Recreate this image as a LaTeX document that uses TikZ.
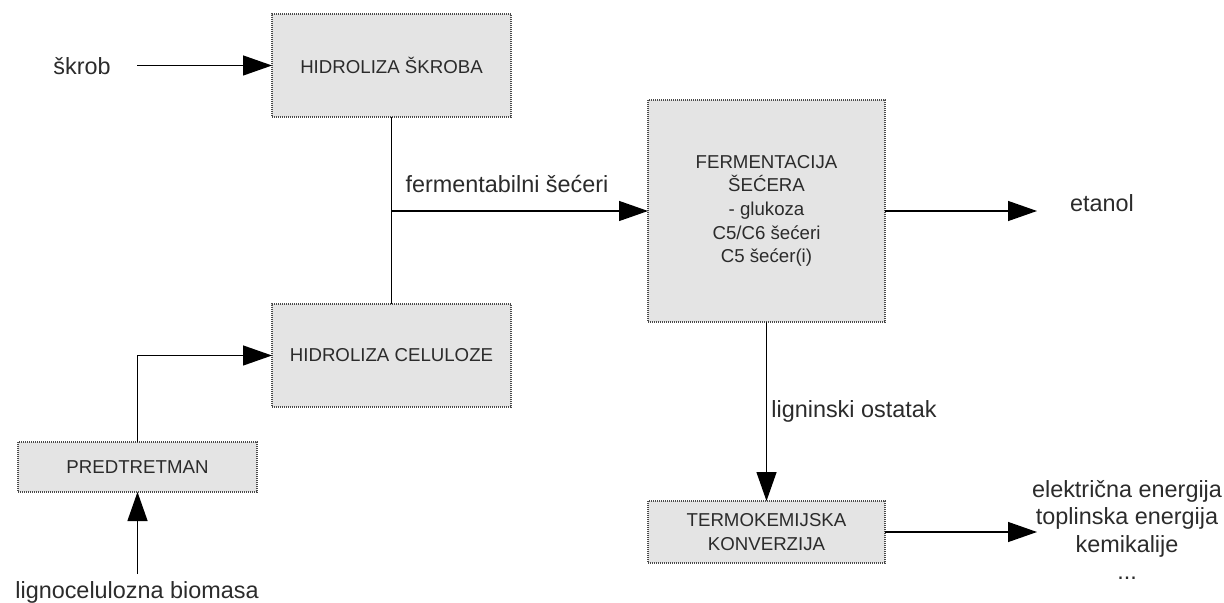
\documentclass[tikz,border=0pt]{standalone}
\usepackage{fontspec}
\setmainfont{Liberation Sans}
\usetikzlibrary{arrows.meta}
\definecolor{txt}{HTML}{2B2B2B}
\definecolor{boxfill}{HTML}{E4E4E4}
\definecolor{boxline}{HTML}{4A4A4A}
\begin{document}
\begin{tikzpicture}[x=0.5pt,y=-0.5pt,
  proc/.style={draw=boxline, fill=boxfill, dash pattern=on 0.5pt off 0.5pt, line width=0.55pt,
    inner sep=0pt, outer sep=0pt, font=\fontsize{9.33}{11.8}\selectfont, text=txt, align=center},
  lbl/.style={font=\fontsize{11.7}{13.75}\selectfont, text=txt, inner sep=0pt, align=center},
  arr/.style={-{Triangle[length=14.5pt,width=10pt]}, line width=0.65pt},
  ln/.style={line width=0.65pt}]
\useasboundingbox (0,0) rectangle (1224,603);

\node[proc, minimum width=119.5pt, minimum height=51.5pt] (hs) at (391.5,65.5) {HIDROLIZA ŠKROBA};
\node[proc, minimum width=119.5pt, minimum height=51.5pt] (hc) at (391.5,355.5) {HIDROLIZA CELULOZE};
\node[proc, minimum width=119.5pt, minimum height=25pt] (pt) at (137.5,467) {PREDTRETMAN};
\node[proc, minimum width=118.5pt, minimum height=111pt] (fe) at (766.5,211) {FERMENTACIJA\\ŠEĆERA\\- glukoza\\C5/C6 šećeri\\C5 šećer(i)};
\node[proc, minimum width=118.5pt, minimum height=31pt] (tk) at (766.5,532) {TERMOKEMIJSKA\\KONVERZIJA};

\node[lbl, anchor=base] (skrob) at (82,75) {škrob};
\node[lbl, anchor=base] (ferm) at (507,193) {fermentabilni šećeri};
\node[lbl, anchor=base] (etanol) at (1102,212) {etanol};
\node[lbl, anchor=base] (lig) at (854,417) {ligninski ostatak};
\node[lbl] (out) at (1127,530) {električna energija\\toplinska energija\\kemikalije\\...};
\node[lbl, anchor=base] (bio) at (137,598) {lignocelulozna biomasa};

\coordinate (s1) at (137,65.5);
\draw[arr] (s1) -- (hs.west);
\draw[ln] (hs.south) -- (hc.north);
\coordinate (j) at (hs.south |- fe.west);
\draw[arr] (j) -- (fe.west);
\coordinate (e1) at (1037,211);
\draw[arr] (fe.east) -- (e1);
\draw[arr] (fe.south) -- (tk.north);
\coordinate (t1) at (1037,532);
\draw[arr] (tk.east) -- (t1);
\draw[arr] (pt.north) |- (hc.west);
\coordinate (b1) at (137.5,574);
\draw[arr] (b1) -- (pt.south);
\end{tikzpicture}
\end{document}
